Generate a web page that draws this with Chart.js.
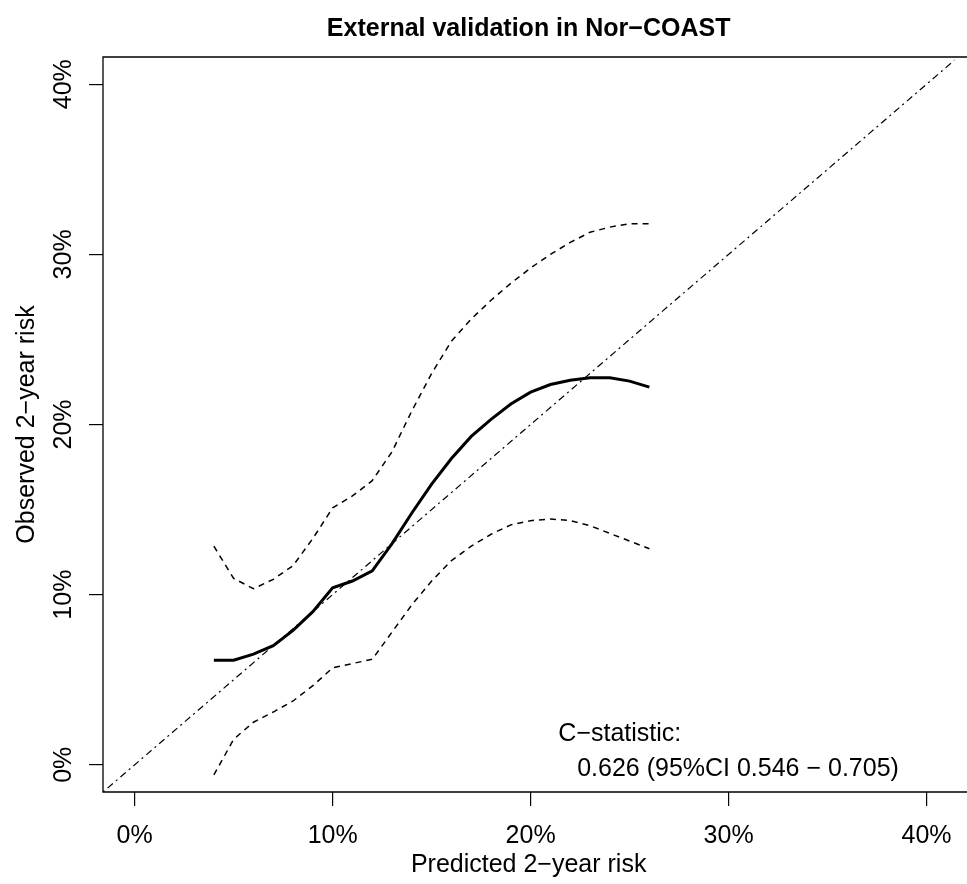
<!DOCTYPE html>
<html>
<head>
<meta charset="utf-8">
<script src="https://cdn.jsdelivr.net/npm/chart.js@4.4.0/dist/chart.umd.min.js"></script>
<style>
body { margin: 0; background: #fff; }
#wrap { width: 967px; height: 884px; }
</style>
</head>
<body>
<div id="wrap"><canvas id="calChart" width="967" height="884"></canvas></div>
<script>
// predicted risk (%) on the x axis
var predicted = [4, 5, 6, 7, 8, 9, 10, 11, 12, 13, 14, 15, 16, 17, 18, 19, 20, 21, 22, 23, 24, 25, 26]
// observed risk (%) and its confidence band
var observed = [6.15, 6.15, 6.5, 7.0, 7.9, 9.0, 10.4, 10.8, 11.4, 13.0, 14.8, 16.5, 18.0, 19.3, 20.3, 21.2, 21.9, 22.35, 22.6, 22.75, 22.75, 22.55, 22.2]
var lowerCI = [-0.6, 1.5, 2.5, 3.1, 3.75, 4.65, 5.7, 5.95, 6.2, 7.8, 9.4, 10.8, 12.0, 12.85, 13.55, 14.1, 14.35, 14.45, 14.35, 14.05, 13.6, 13.15, 12.7]
var upperCI = [12.85, 10.95, 10.35, 10.9, 11.7, 13.3, 15.1, 15.8, 16.7, 18.4, 20.8, 23.0, 24.9, 26.2, 27.3, 28.3, 29.2, 30.0, 30.7, 31.3, 31.6, 31.8, 31.8]
var diagonal = [-1.6, 41.6]
var xTicks = [0, 10, 20, 30, 40]
var yTicks = [0, 10, 20, 30, 40]
var xRange = [-1.6, 41.4]
var yRange = [-1.6, 41.6]
var cStatText = ["C\u2212statistic:", "0.626 (95%CI 0.546 \u2212 0.705)"]

var fontFam = "'Liberation Sans', Arial, Helvetica, sans-serif"

function toPoints(xs, ys) {
    var pts = []
    for (var i = 0; i < xs.length; i++) {
        pts.push({x: xs[i], y: ys[i]})
    }
    return pts
}

// R style box: left, top and bottom (right side is cut off by the picture)
var boxPlugin = {
    id: "rbox",
    afterDraw: function(chart) {
        var a = chart.chartArea
        var c = chart.ctx
        c.save()
        c.strokeStyle = "#000"
        c.lineWidth = 1.3
        c.beginPath()
        c.moveTo(chart.width + 2, a.top)
        c.lineTo(a.left, a.top)
        c.lineTo(a.left, a.bottom)
        c.lineTo(chart.width + 2, a.bottom)
        c.stroke()
        c.restore()
    }
}

// c-statistic note, placed in data coordinates
var notePlugin = {
    id: "cstat",
    afterDraw: function(chart) {
        var sx = chart.scales.x
        var sy = chart.scales.y
        var c = chart.ctx
        c.save()
        c.fillStyle = "#000"
        c.font = "25px " + fontFam
        c.textBaseline = "alphabetic"
        c.textAlign = "left"
        c.fillText(cStatText[0], sx.getPixelForValue(21.4), sy.getPixelForValue(1.4))
        c.fillText(cStatText[1], sx.getPixelForValue(22.35), sy.getPixelForValue(-0.65))
        c.restore()
    }
}

var ctx = document.getElementById("calChart").getContext("2d")
var chart = new Chart(ctx, {
    type: "scatter",
    data: {
        datasets: [{
            data: toPoints(predicted, observed),
            showLine: true,
            borderColor: "#000",
            borderWidth: 3,
            pointRadius: 0,
            tension: 0
        }, {
            data: toPoints(predicted, upperCI),
            showLine: true,
            borderColor: "#000",
            borderWidth: 1.5,
            borderDash: [6, 5],
            pointRadius: 0,
            tension: 0
        }, {
            data: toPoints(predicted, lowerCI),
            showLine: true,
            borderColor: "#000",
            borderWidth: 1.5,
            borderDash: [6, 5],
            pointRadius: 0,
            tension: 0
        }, {
            data: toPoints(diagonal, diagonal),
            showLine: true,
            borderColor: "#000",
            borderWidth: 1.2,
            borderDash: [2, 4, 7, 4],
            pointRadius: 0,
            tension: 0
        }]
    },
    options: {
        responsive: false,
        animation: false,
        layout: { padding: 0 },
        plugins: {
            legend: { display: false },
            tooltip: { enabled: false },
            title: {
                display: true,
                fullSize: false,
                text: "External validation in Nor\u2212COAST",
                color: "#000",
                font: { family: fontFam, size: 25, weight: "bold" },
                padding: { top: 14, bottom: 13 }
            }
        },
        scales: {
            x: {
                type: "linear",
                min: xRange[0],
                max: xRange[1],
                afterBuildTicks: function(s) { s.ticks = xTicks.map(function(v) { return {value: v} }) },
                afterFit: function(s) { s.height = 92 },
                ticks: {
                    callback: function(v) { return v + "%" },
                    color: "#000",
                    font: { family: fontFam, size: 25 },
                    padding: 15,
                    maxRotation: 0,
                    autoSkip: false
                },
                grid: { drawOnChartArea: false, drawTicks: true, tickLength: 14, color: "#000", lineWidth: 1.2 },
                border: { display: false },
                title: {
                    display: true,
                    text: "Predicted 2\u2212year risk",
                    color: "#000",
                    font: { family: fontFam, size: 25 },
                    padding: { top: 0, bottom: 4 }
                }
            },
            y: {
                type: "linear",
                min: yRange[0],
                max: yRange[1],
                afterBuildTicks: function(s) { s.ticks = yTicks.map(function(v) { return {value: v} }) },
                afterFit: function(s) { s.width = 103 },
                ticks: {
                    callback: function(v) { return v + "%" },
                    color: "#000",
                    font: { family: fontFam, size: 25 },
                    padding: 0,
                    minRotation: 90,
                    maxRotation: 90,
                    crossAlign: "center",
                    autoSkip: false
                },
                grid: { drawOnChartArea: false, drawTicks: true, tickLength: 14, color: "#000", lineWidth: 1.2 },
                border: { display: false },
                title: {
                    display: true,
                    text: "Observed 2\u2212year risk",
                    color: "#000",
                    font: { family: fontFam, size: 25 },
                    padding: { top: 12, bottom: 0 }
                }
            }
        }
    },
    plugins: [boxPlugin, notePlugin]
})
</script>
</body>
</html>
